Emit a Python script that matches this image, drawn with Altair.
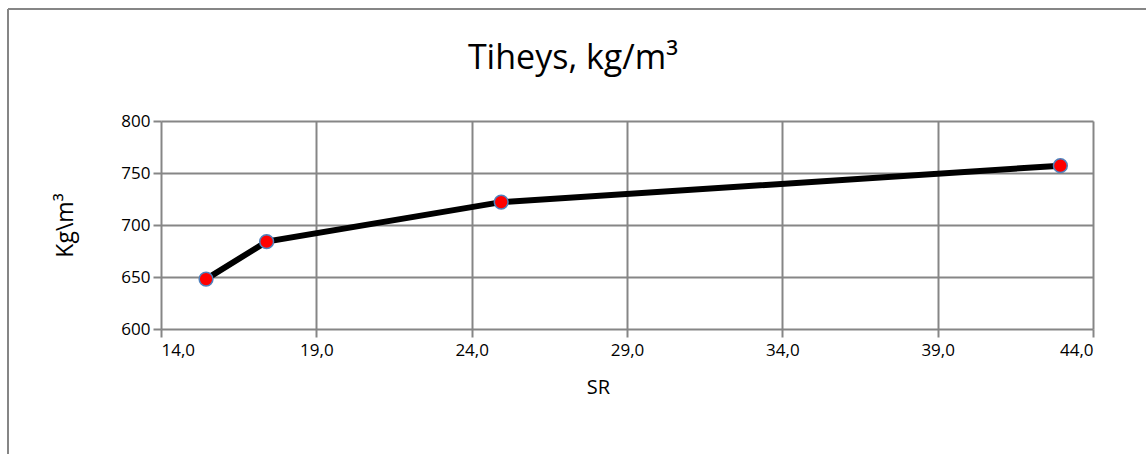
import altair as alt
import pandas as pd

sr = [15.45, 17.4, 24.95, 42.95]
density = [648, 684, 722, 757]
x_ticks = [14, 19, 24, 29, 34, 39, 44]
y_ticks = [600, 650, 700, 750, 800]
chart_title = ["Tiheys, kg/m³"]

df = pd.DataFrame({"SR": sr, "Tiheys": density})
tdf = pd.DataFrame({"t": chart_title})

FONT = "Open Sans"
GRID = "#868686"

x_enc = alt.X(
    "SR:Q",
    scale=alt.Scale(domain=[14, 44], nice=False, zero=False),
    axis=alt.Axis(
        values=x_ticks,
        labelExpr="replace(format(datum.value, '.1f'), '.', ',')",
        title="SR",
        titleX=437,
        titleY=58,
        titleBaseline="middle",
        titleAlign="center",
    ),
)
y_enc = alt.Y(
    "Tiheys:Q",
    scale=alt.Scale(domain=[600, 800], nice=False, zero=False),
    axis=alt.Axis(
        values=y_ticks,
        title="Kg\\m³",
        titleX=-96,
        titleY=104,
        titleBaseline="middle",
        titleAlign="center",
        titleAngle=-90,
        titleFontSize=23,
    ),
)

line = alt.Chart(df).mark_line(color="black", strokeWidth=6).encode(x=x_enc, y=y_enc)
pts = alt.Chart(df).mark_point(
    filled=True, fill="#FF0000", stroke="#4F81BD", strokeWidth=1.5, size=190, opacity=1, shape="circle"
).encode(x="SR:Q", y="Tiheys:Q")

border_top = alt.Chart(df).mark_rule(color=GRID, strokeWidth=2).encode(
    x=alt.value(-153), x2=alt.value(1000), y=alt.value(-112)
)
border_left = alt.Chart(df).mark_rule(color=GRID, strokeWidth=2).encode(
    x=alt.value(-153), y=alt.value(-112), y2=alt.value(400)
)
title = alt.Chart(tdf).mark_text(
    font=FONT, fontSize=34, color="black", align="center", baseline="alphabetic"
).encode(text="t:N", x=alt.value(412), y=alt.value(-52))

chart = (
    alt.layer(border_top, border_left, title, line, pts)
    .properties(
        width=932,
        height=208,
        autosize=alt.AutoSizeParams(type="none"),
        padding={"left": 161, "top": 121, "right": 53, "bottom": 125},
        background="white",
    )
    .configure_view(stroke=None)
    .configure_axis(
        labelFont=FONT,
        labelFontSize=17,
        labelColor="black",
        titleFont=FONT,
        titleFontSize=20,
        titleFontWeight="normal",
        titleColor="black",
        gridColor=GRID,
        gridWidth=2,
        gridOpacity=1,
        tickColor=GRID,
        tickWidth=2,
        tickSize=8,
        domain=False,
    )
    .configure_axisY(labelPadding=3)
    .configure_axisX(labelPadding=5)
)

chart.save("out.html", embed_options={"renderer": "svg", "actions": False})
